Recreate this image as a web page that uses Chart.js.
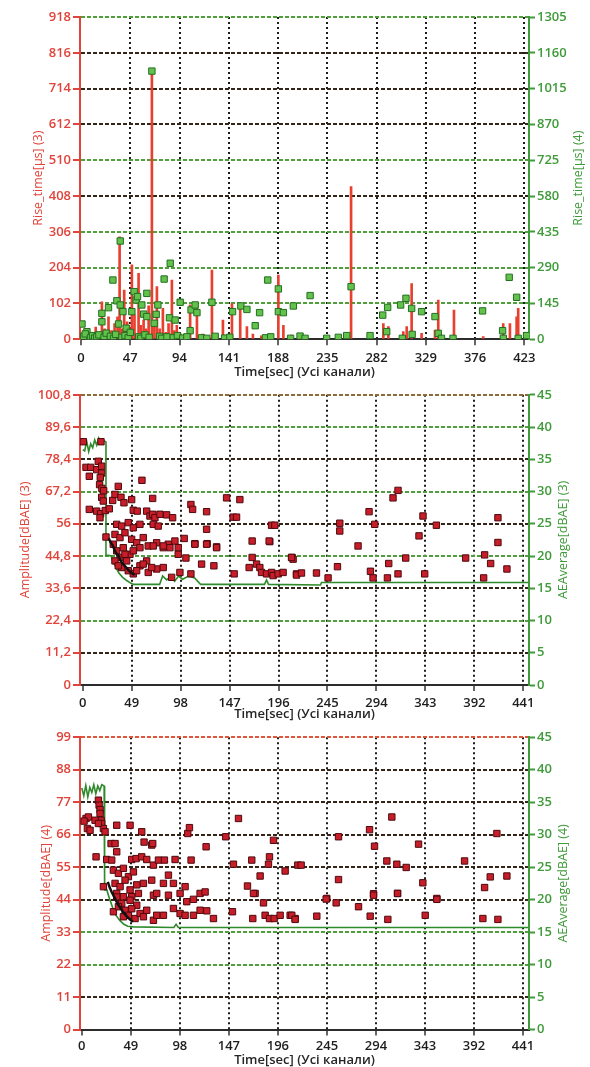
<!DOCTYPE html>
<html>
<head>
<meta charset="utf-8">
<script src="https://cdn.jsdelivr.net/npm/chart.js@4.4.1/dist/chart.umd.min.js"></script>
<style>
  html, body { margin: 0; padding: 0; background: #fff; }
  #wrap { position: relative; width: 590px; height: 1067px; overflow: hidden; background: #fff; }
  #wrap canvas { position: absolute; left: 0; }
</style>
</head>
<body>
<div id="wrap">
  <canvas id="riseChart" width="590" height="385" style="top:0px"></canvas>
  <canvas id="amp3Chart" width="590" height="340" style="top:385px"></canvas>
  <canvas id="amp4Chart" width="590" height="350" style="top:725px"></canvas>
</div>
<script>
// ---- tick values ----
const timeTicksRise = [0, 47, 94, 141, 188, 235, 282, 329, 376, 423];
const timeTicksAmp = [0, 49, 98, 147, 196, 245, 294, 343, 392, 441];
const riseTicks3 = [0, 102, 204, 306, 408, 510, 612, 714, 816, 918];
const riseTicks4 = [0, 145, 290, 435, 580, 725, 870, 1015, 1160, 1305];
const ampTicks3 = [0, 11.2, 22.4, 33.6, 44.8, 56, 67.2, 78.4, 89.6, 100.8];
const ampTicks4 = [0, 11, 22, 33, 44, 55, 66, 77, 88, 99];
const aeTicks = [0, 5, 10, 15, 20, 25, 30, 35, 40, 45];

// ---- Rise time, channel 3 (stems) : [time s, rise µs] ----
const riseTime3 = [
  [1.5,18],[4,25],[7,12],[10,18],[14,35],[19.9,107],[22.5,30],[26.2,64],[29,25],[32,45],
  [34.8,64],[36.8,292],[39,30],[41.2,140],[44,50],[46,35],[48.5,212],[51,70],[54.9,188],[57,40],
  [59.7,55],[62,30],[64.5,95],[67.6,764],[70,40],[72.4,150],[75,30],[78.1,88],[81,20],[83.5,45],
  [86.7,169],[89,25],[91.4,40],[95,15],[100,12],[104.1,98],[110.6,102],[116,15],[124.9,197],[130,12],
  [135.4,55],[144,102],[151.9,88],[158.3,36],[164,15],[172,10],[180,12],[188.3,183],[193.1,40],[201,12],
  [257.7,435],[288.5,45],[293.3,36],[307.5,22],[310.8,36],[315.5,159],[325,17],[337.8,26],[340.9,112],[355.9,83],
  [383.8,8],[402.9,45],[409.3,45],[415.7,64],[417.2,88]
];

// ---- Rise time, channel 4 (squares) : [time s, rise µs] ----
const riseTime4 = [
  [0.9,62],[5.6,31],[7.2,8],[19.9,105],[19.9,71],[26.2,128],[30.4,240],[34.2,156],[37.4,398],[37.4,139],
  [35.8,62],[40,112],[43.1,45],[48.5,112],[50.7,193],[52.6,159],[53.9,173],[58,139],[59.7,102],[62.8,92],
  [62.8,186],[67.6,1086],[69.8,65],[71.7,101],[73.3,139],[79.3,244],[85.1,308],[84.4,87],[89.8,78],[94.6,150],
  [104.1,35],[105,119],[108.9,139],[110.6,108],[124.9,150],[144.6,112],[152.5,135],[158.3,121],[166.2,55],[170.4,108],
  [178.2,240],[188.3,204],[188.3,112],[193.1,108],[202.6,135],[218.6,177],[257.7,213],[287.9,98],[291.7,31],[292.6,129],
  [305,139],[310.1,166],[315.5,125],[325,112],[337.8,92],[340.9,24],[383.2,115],[402.3,35],[408.6,251],[415.7,170],
  [425.2,15],
  [2.5,12],[4,22],[9,6],[11,15],[13,5],[15,10],[17,18],[22,8],[24,25],[28,12],
  [31,4],[33,20],[39,8],[42,15],[45,6],[47,28],[55,10],[57,4],[61,18],[65,8],
  [75,12],[77,4],[82,10],[88,6],[92,15],[97,5],[101,10],[115,6],[120,4],[128,12],
  [137,5],[142,8],[176,6],[181,10],[200,4],[209,13],[213.8,4],[234.4,4],[245.5,8],[253.5,15],
  [275.8,15],[306.6,4],[316,20],[344,4],[355,4],[403,4],[417.2,4]
];

// ---- Amplitude, channel 3 : [time s, dBAE] ----
const amplitude3 = [
  [0.6,84.5],[18.3,84.5],[3.3,75.6],[8,75.6],[6.6,72.5],[14,74.8],[15.6,77.7],[19,76],[19,73.6],[17.6,72.1],
  [16.9,69.6],[19.2,68.3],[21,67.5],[19,65.2],[20.6,63.9],[6.6,61],[14,60.4],[17.9,59.5],[17.3,58.1],[22.6,60.6],
  [26.6,61.2],[23.3,51.4],[30,64.1],[32.3,66.2],[35.6,69],[38.3,65.2],[41.3,63.3],[49,64.4],[59.3,71.1],[50.6,60.7],
  [54.6,60.4],[70,64.8],[108.3,62.7],[110,61],[124,60.2],[144,65],[157.3,64.4],[150.6,58.3],[154,58.3],[189,55.5],
  [192.3,55.5],[169.6,50],[187.3,49.8],[209.6,44.3],[101.6,50.9],[112.3,49.1],[124.6,49.1],[134,48],[124,54.1],
  [64,60.4],[67.3,58.7],[70,59.3],[72.3,58.1],[77.3,59.3],[84,59.1],[90,58.1],[70.6,55.8],[75.6,55.2],
  [34,55.8],[39,55.2],[45.6,56.4],[50.6,54.6],[57.3,55.8],[32.3,52.3],[37.3,51.2],[42.3,52.9],[49,50.6],[54,49.4],
  [60.6,51.2],[65.6,48.3],[74,49.4],[80.6,47.7],[85.6,48.9],[92.3,50],[95.6,47.7],
  [70.6,48.3],[80.6,48.3],[87.3,47.7],[95.6,45.4],[112.3,48.9],[124,48.9],[134,47.7],[103.3,44.1],[119,42],[131.3,41.4],
  [108.3,38.6],[97.3,39.1],[89,37.4],[80.6,40.8],[74,40.3],[64,43.1],[57.3,41.4],[50.6,38.6],[151.6,38.6],[169.6,44.3],
  [166.6,40.8],[174,42],[177.3,40.8],[179,39.1],[184,38.6],[189,39.1],[190.6,38],[195.6,38.6],[200.6,39.1],[210.6,43.7],
  [214,38.6],[186.6,50],
  [30.6,48.9],[34,46.6],[37.3,44.3],[40.6,47.7],[44,43.1],[47.3,45.4],[32.3,43.1],[39,40.8],[45.6,39.7],[54,39.7],
  [50.6,46.6],[42.3,45.4],[35.6,41.4],[57.3,47.7],[60.6,42],[65.6,39.1],[69,40.8],
  [257.3,56.2],[257.3,53.5],[286.6,60.2],[292.3,55.8],[275.6,48.3],[310.6,65],[315.6,67.6],[340.6,58.7],[336.6,51.8],[354,55.5],
  [415.6,58.1],[415.6,49.5],[402.3,45.2],
  [209,44.3],[214,38.2],[219,38.9],[234,38.9],[245.6,37.2],[255,41.1],[288,39.5],[290.6,37.2],[305,37.2],[306.3,42.2],
  [315.6,38.6],[323.3,44.1],[342.3,38.6],[383.3,44.1],[401.3,37.2],[408.3,42.2],[424.6,40.3]
];

// ---- Amplitude, channel 4 : [time s, dBAE] ----
const amplitude4 = [
  [16.6,77.7],[17.3,76],[18.25,74.5],[18.25,73.2],[19.25,70.9],[19.9,69.8],[21.6,68.1],[23.25,67],[4.25,71.5],[6.6,72],
  [2.25,70.6],[5.6,68.1],[8.25,67.5],[13.25,70.9],[16.6,69.8],[34.9,69.2],[48.25,69.2],[59.9,67],[62.25,63.5],[69.9,62.5],
  [70.9,63],[29.25,63],[33.25,63],[34.9,60.2],[14.25,58.5],[24.9,57.6],[49.9,57.6],[54.25,57.9],[59.9,58.5],[64.9,57.6],
  [71.6,55.7],[76.6,57.4],[82.6,57.4],[93.25,57.6],[105.9,66.4],[107.6,68.4],[124.25,61.9],[109.25,57.4],[143.9,65.3],[156.6,71.5],
  [151.6,56],[169.9,57.4],[165.6,48.6],[173.25,46.1],[178.25,52],[186.6,56],[187.6,58.5],[191.6,64.1],[203.25,53.7],[215.9,55.7],
  [61.6,49.5],[69.9,50.6],[81.6,49.5],[86.6,52.3],[91.6,49.5],[103.25,48.4],[21.6,48.4],
  [31.6,54],[36.6,52.9],[41.6,54.6],[46.6,51.8],[51.6,53.4],[33.25,49.5],[38.25,48.4],[43.25,50.6],[48.25,47.3],[54.9,49],
  [34.9,46.1],[41.6,45],[49.9,45],[56.6,46.1],[29.9,57.4],
  [31.6,39.9],[54.9,42.1],[64.9,40.4],[71.6,37],[74.9,38.7],[81.6,38.7],[86.6,45.5],[91.6,41],[98.25,39.3],[103.25,38.7],
  [111.6,38.7],[118.25,40.4],[124.9,40.2],[131.6,37.6],[98.25,46.1],[104.9,43.3],[111.6,44.1],[118.25,46.1],[123.25,46.6],[150.6,39.9],
  [171.6,46.1],[181.6,42.9],[170.9,37.6],[183.25,38.7],[187.6,37.6],[192.25,37.6],[198.25,38.7],[208.25,38.7],[213.25,37.6],[71.6,45.5],
  [74.9,46.1],
  [34.9,44.9],[39.9,42.7],[43.25,40.4],[46.6,38.7],[49.9,40.9],[36.6,41.6],[48.25,43.8],[41.6,38.2],[53.25,37.6],[58.25,39.3],
  [61.6,38.2],
  [219.25,55.7],[256.6,65.3],[256.6,50.8],[287.6,67.7],[292.6,62.1],[309.9,72],[304.9,57.1],[314.9,56],[324.25,54.9],[336.6,62.8],
  [340.9,49.7],[291.6,46],[315.6,46.1],[354.9,44.4],[244.9,44.4],[382.6,57.1],[414.9,66.4],[408.25,51.7],[424.9,52],[402.6,48.1],
  [244.25,44.2],[254.25,42.9],[234.9,38.4],[276.6,41.6],[288.25,38.4],[291.6,45.5],[305.9,37.3],[315.6,46.1],[343.25,38.7],[354.9,44.1],
  [400.9,37.6],[415.9,37.3],[209.9,38.7],[213.25,37.3]
];

// ---- AE average, channel 3 : [time s, dBAE] ----
const aeAverage3 = [
  [0,36.5],[2,36.3],[4,37.8],[6,36.2],[8,37.4],[10,36.8],[12,38],[14,37.2],[16,38.3],[18,37.7],
  [20,38],[23.3,37.7],[23.3,20.1],[26,20.1],[28.5,20],[30,19.2],[33,18.3],[36,17.4],[40,16.7],[44,16.2],
  [48,15.8],[51,15.6],[77,15.6],[80,16.9],[84,16.3],[88,16.8],[92,16.1],[96,16.9],[100,16.4],[106,16.9],
  [112,16.6],[118,15.6],[182,15.6],[184,16.3],[186,15.6],[238,15.5],[239,15.9],[446,15.9]
];

// ---- AE average, channel 4 : [time s, dBAE] ----
const aeAverage4 = [
  [0,37.2],[2,36],[4,37.6],[6,35.8],[8,37.3],[10,36.5],[12,37.7],[14,36.3],[16,37.5],[18,36.8],
  [20,37.7],[22.3,37.5],[22.8,21.5],[25,21.5],[28,20],[31,18.7],[34,17.6],[38,16.8],[42,16.2],[46,15.9],
  [51.6,15.8],[92,15.7],[94.25,16.2],[96.5,15.7],[446,15.7]
];

// ---- running amplitude trace during the initial decay : [time s, dBAE] ----
const ampTrace3 = [
  [26,51],[28,49.5],[30,48.5],[32,46.8],[34,45.5],[36,44.8],[38,43.2],[40,42.1],[43,41],[46,39.8],[49,38.9],[52,38.2]
];
const ampTrace4 = [
  [26,50],[28,48],[30,46.5],[33,44.5],[36,42.5],[39,41],[42,39.5],[45,38.3],[48,37.3],[51,36.5]
];

// ---- styling ----
const FONT = "'Open Sans', 'DejaVu Sans', sans-serif";
const RED = '#e0443a';
const GREEN = '#3f9a3a';
const AXIS_DARK = '#2c2c2c';
const GRID = { g: '#4f9f3c', d: '#33251a', m: '#8c6a3a', r: '#e0553c' };
const riseGridTone = ['', 'g', 'g', 'g', 'd', 'g', 'd', 'd', 'd', 'g'];
const amp3GridTone = ['', 'd', 'g', 'd', 'g', 'd', 'g', 'd', 'g', 'm'];
const amp4GridTone = ['', 'd', 'g', 'g', 'd', 'd', 'd', 'd', 'd', 'r'];

const toXY = pairs => pairs.map(p => ({ x: p[0], y: p[1] }));
const decimalComma = v => String(v).replace('.', ',');
const fixedTicks = list => scale => { scale.ticks = list.map(v => ({ value: v })); };

// vertical axis captions, both read bottom-to-top
const sideTitles = {
  id: 'sideTitles',
  afterDraw(chart, args, opts) {
    const { ctx, chartArea } = chart;
    const cy = (chartArea.top + chartArea.bottom) / 2;
    ctx.save();
    ctx.font = opts.font;
    ctx.textAlign = 'center';
    ctx.textBaseline = 'middle';
    opts.items.forEach(t => {
      ctx.save();
      ctx.translate(t.x, cy);
      ctx.rotate(-Math.PI / 2);
      ctx.fillStyle = t.color;
      ctx.fillText(t.text, 0, 0);
      ctx.restore();
    });
    ctx.restore();
  }
};

function buildPanel(id, cfg) {
  return new Chart(document.getElementById(id), {
    type: 'scatter',
    data: { datasets: cfg.datasets },
    plugins: [sideTitles],
    options: {
      responsive: false,
      animation: false,
      devicePixelRatio: 1,
      events: [],
      layout: { padding: { top: cfg.padTop, left: 0, right: 0, bottom: 0 } },
      plugins: {
        legend: { display: false },
        tooltip: { enabled: false },
        sideTitles: {
          font: '12.5px ' + FONT,
          items: [
            { x: cfg.leftTitleX, text: cfg.leftTitle, color: RED },
            { x: cfg.rightTitleX, text: cfg.rightTitle, color: GREEN }
          ]
        }
      },
      scales: {
        x: {
          type: 'linear',
          position: 'bottom',
          min: cfg.xMin,
          max: cfg.xMax,
          offset: false,
          afterBuildTicks: fixedTicks(cfg.xTicks),
          afterFit: s => { s.height = cfg.xHeight; },
          ticks: {
            autoSkip: false, maxRotation: 0, padding: cfg.xLabelPad,
            color: '#1e1e1e', font: { family: FONT, size: 13, weight: '600' },
            callback: v => String(v)
          },
          grid: {
            offset: false,
            color: c => (c.index === 0 ? 'rgba(0,0,0,0)' : '#1b1b1b'),
            lineWidth: 2, tickLength: 6, tickColor: '#333', tickWidth: 1.5
          },
          border: { display: true, color: AXIS_DARK, width: 2, dash: [2, 3] },
          title: {
            display: true, text: 'Time[sec] (Усі канали)', color: '#262626',
            font: { family: FONT, size: 13, weight: '600' },
            padding: { top: 0, bottom: cfg.xTitlePad }
          }
        },
        y: {
          type: 'linear',
          position: 'left',
          min: cfg.leftTicks[0],
          max: cfg.leftTicks[cfg.leftTicks.length - 1],
          afterBuildTicks: fixedTicks(cfg.leftTicks),
          afterFit: s => { s.width = 80; },
          ticks: {
            autoSkip: false, padding: 2, color: RED,
            font: { family: FONT, size: 13, weight: '600' },
            callback: decimalComma
          },
          grid: {
            color: c => GRID[cfg.gridTone[c.index]] || 'rgba(0,0,0,0)',
            lineWidth: 2, tickLength: 7, tickColor: RED, tickWidth: 2
          },
          border: { display: true, color: RED, width: 2, dash: [4, 2] }
        },
        y2: {
          type: 'linear',
          position: 'right',
          min: 0,
          max: cfg.rightTicks[cfg.rightTicks.length - 1],
          afterBuildTicks: fixedTicks(cfg.rightTicks),
          afterFit: s => { s.width = 61; },
          ticks: {
            autoSkip: false, padding: 2, color: GREEN,
            font: { family: FONT, size: 13, weight: '600' },
            callback: decimalComma
          },
          grid: { drawOnChartArea: false, tickLength: 6, tickColor: GREEN, tickWidth: 2 },
          border: { display: true, color: GREEN, width: 2 }
        }
      }
    }
  });
}

const greenSquare = {
  pointStyle: 'rect', pointRadius: 4.5, pointBorderWidth: 1,
  backgroundColor: '#62c24c', borderColor: '#246f22'
};
const redSquare = {
  pointStyle: 'rect', pointRadius: 4.5, pointBorderWidth: 1,
  backgroundColor: '#c81e2a', borderColor: '#4e0a0e'
};

// Panel 1: rise time of both channels
buildPanel('riseChart', {
  padTop: 17, xMin: -1, xMax: 427.5, xTicks: timeTicksRise, xHeight: 45.7, xLabelPad: 5, xTitlePad: 5,
  leftTicks: riseTicks3, rightTicks: riseTicks4, gridTone: riseGridTone,
  leftTitle: 'Rise_time[µs] (3)', rightTitle: 'Rise_time[µs] (4)', leftTitleX: 38, rightTitleX: 578,
  datasets: [
    Object.assign({ label: 'Rise_time (4)', data: toXY(riseTime4), yAxisID: 'y2', order: 0 }, greenSquare),
    { type: 'bar', label: 'Rise_time (3)', data: toXY(riseTime3), yAxisID: 'y', order: 1,
      backgroundColor: '#e8402f', borderWidth: 0, barThickness: 2, grouped: false }
  ]
});

// Panel 2: amplitude and AE average, channel 3
buildPanel('amp3Chart', {
  padTop: 8.3, xMin: -2.7, xMax: 446.7, xTicks: timeTicksAmp, xHeight: 40, xLabelPad: 4, xTitlePad: 3,
  leftTicks: ampTicks3, rightTicks: aeTicks, gridTone: amp3GridTone,
  leftTitle: 'Amplitude[dBAE] (3)', rightTitle: 'AEAverage[dBAE] (3)', leftTitleX: 25, rightTitleX: 563,
  datasets: [
    { type: 'line', label: 'trace', data: toXY(ampTrace3), yAxisID: 'y', order: 0,
      borderColor: '#111', borderWidth: 2.5, pointRadius: 0, tension: 0 },
    Object.assign({ label: 'Amplitude (3)', data: toXY(amplitude3), yAxisID: 'y', order: 1 }, redSquare),
    { type: 'line', label: 'AEAverage (3)', data: toXY(aeAverage3), yAxisID: 'y2', order: 2,
      borderColor: '#2f8a2c', borderWidth: 1.6, pointRadius: 0, tension: 0 }
  ]
});

// Panel 3: amplitude and AE average, channel 4
buildPanel('amp4Chart', {
  padTop: 12.3, xMin: -1.8, xMax: 447, xTicks: timeTicksAmp, xHeight: 45.5, xLabelPad: 3, xTitlePad: 7,
  leftTicks: ampTicks4, rightTicks: aeTicks, gridTone: amp4GridTone,
  leftTitle: 'Amplitude[dBAE] (4)', rightTitle: 'AEAverage[dBAE] (4)', leftTitleX: 46, rightTitleX: 563,
  datasets: [
    { type: 'line', label: 'trace', data: toXY(ampTrace4), yAxisID: 'y', order: 0,
      borderColor: '#111', borderWidth: 2.5, pointRadius: 0, tension: 0 },
    Object.assign({ label: 'Amplitude (4)', data: toXY(amplitude4), yAxisID: 'y', order: 1 }, redSquare),
    { type: 'line', label: 'AEAverage (4)', data: toXY(aeAverage4), yAxisID: 'y2', order: 2,
      borderColor: '#2f8a2c', borderWidth: 1.6, pointRadius: 0, tension: 0 }
  ]
});
</script>
</body>
</html>
